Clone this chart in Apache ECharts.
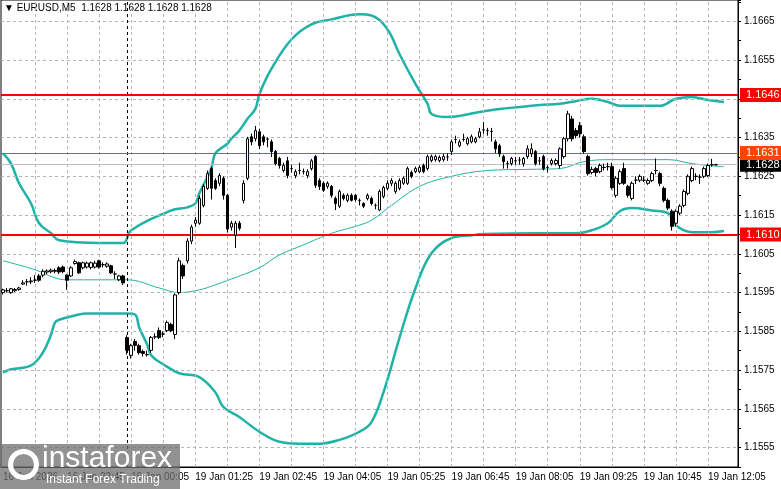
<!DOCTYPE html>
<html>
<head>
<meta charset="utf-8">
<script src="https://cdn.jsdelivr.net/npm/echarts@6/dist/echarts.min.js"></script>
<style>
  html, body { margin: 0; padding: 0; background: #fff; }
  #chart { width: 781px; height: 489px; }
</style>
</head>
<body>
<div id="chart"></div>
<script>
// EURUSD M5 candles, [open, close, low, high]
var candles = [
  [1.15950,1.15957,1.15945,1.15960],[1.15955,1.15955,1.15950,1.15962],[1.15950,1.15960,1.15947,1.15962],
  [1.15955,1.15958,1.15952,1.15962],[1.15958,1.15962,1.15955,1.15965],[1.15972,1.15975,1.15970,1.15982],
  [1.15978,1.15978,1.15968,1.15985],[1.15978,1.15980,1.15972,1.15990],[1.15982,1.15982,1.15975,1.15995],
  [1.15993,1.15982,1.15978,1.15998],[1.15995,1.16005,1.15990,1.16010],[1.16003,1.16006,1.15998,1.16010],
  [1.16004,1.16008,1.16000,1.16012],[1.16005,1.16007,1.16000,1.16012],[1.16014,1.16003,1.15998,1.16018],
  [1.16016,1.16004,1.16000,1.16020],[1.15995,1.15982,1.15957,1.15998],[1.15993,1.16014,1.15990,1.16018],
  [1.16025,1.16030,1.16022,1.16035],[1.16027,1.16001,1.15998,1.16030],[1.16014,1.16027,1.16010,1.16030],
  [1.16016,1.16026,1.16012,1.16030],[1.16015,1.16027,1.16010,1.16030],[1.16016,1.16026,1.16012,1.16032],
  [1.16032,1.16016,1.16012,1.16035],[1.16022,1.16022,1.16015,1.16028],[1.16018,1.16024,1.16014,1.16028],
  [1.16019,1.16001,1.15998,1.16022],[1.15998,1.15998,1.15985,1.16005],[1.15983,1.15993,1.15980,1.15996],
  [1.15993,1.15975,1.15970,1.15996],
  [1.15834,1.15801,1.15790,1.15840],[1.15788,1.15813,1.15780,1.15818],[1.15824,1.15814,1.15800,1.15830],
  [1.15813,1.15795,1.15790,1.15818],[1.15798,1.15793,1.15785,1.15803],[1.15790,1.15790,1.15785,1.15800],
  [1.15801,1.15834,1.15795,1.15838],[1.15836,1.15836,1.15830,1.15845],[1.15852,1.15834,1.15830,1.15860],
  [1.15843,1.15843,1.15835,1.15850],[1.15852,1.15873,1.15848,1.15878],[1.15868,1.15852,1.15848,1.15872],
  [1.15842,1.15944,1.15830,1.15948],[1.15950,1.16032,1.15945,1.16040],[1.16020,1.15993,1.15985,1.16025],
  [1.16032,1.16083,1.16025,1.16090],[1.16083,1.16119,1.16075,1.16125],[1.16129,1.16137,1.16120,1.16145],
  [1.16129,1.16193,1.16125,1.16200],[1.16175,1.16224,1.16170,1.16230],[1.16219,1.16257,1.16215,1.16265],
  [1.16270,1.16219,1.16190,1.16275],[1.16239,1.16219,1.16215,1.16245],[1.16232,1.16252,1.16225,1.16258],
  [1.16245,1.16201,1.16190,1.16250],[1.16201,1.16114,1.16105,1.16205],[1.16119,1.16129,1.16110,1.16135],
  [1.16098,1.16129,1.16065,1.16135],[1.16129,1.16116,1.16110,1.16135],[1.16188,1.16232,1.16180,1.16240],
  [1.16245,1.16347,1.16240,1.16352],[1.16352,1.16339,1.16330,1.16360],[1.16347,1.16368,1.16340,1.16380],
  [1.16365,1.16329,1.16320,1.16372],[1.16352,1.16339,1.16330,1.16358],[1.16346,1.16346,1.16325,1.16350],
  [1.16339,1.16314,1.16300,1.16345],[1.16314,1.16283,1.16278,1.16318],[1.16296,1.16278,1.16270,1.16300],
  [1.16265,1.16278,1.16260,1.16285],[1.16290,1.16252,1.16245,1.16300],[1.16270,1.16270,1.16260,1.16280],
  [1.16252,1.16262,1.16245,1.16268],[1.16265,1.16265,1.16255,1.16285],[1.16262,1.16262,1.16255,1.16270],
  [1.16252,1.16262,1.16245,1.16268],[1.16270,1.16290,1.16265,1.16295],[1.16301,1.16227,1.16220,1.16305],
  [1.16239,1.16224,1.16215,1.16245],[1.16232,1.16214,1.16210,1.16237],[1.16224,1.16232,1.16218,1.16237],
  [1.16224,1.16201,1.16195,1.16228],[1.16193,1.16180,1.16163,1.16198],[1.16173,1.16211,1.16168,1.16216],
  [1.16201,1.16193,1.16188,1.16206],[1.16188,1.16201,1.16183,1.16206],[1.16201,1.16188,1.16185,1.16206],
  [1.16201,1.16190,1.16185,1.16205],[1.16188,1.16188,1.16175,1.16193],[1.16180,1.16173,1.16168,1.16183],
  [1.16193,1.16201,1.16188,1.16206],[1.16193,1.16180,1.16175,1.16198],[1.16175,1.16175,1.16165,1.16180],
  [1.16163,1.16211,1.16160,1.16216],[1.16198,1.16221,1.16193,1.16226],[1.16219,1.16232,1.16214,1.16240],
  [1.16232,1.16239,1.16225,1.16245],[1.16211,1.16232,1.16205,1.16237],[1.16219,1.16239,1.16214,1.16245],
  [1.16232,1.16245,1.16228,1.16250],[1.16232,1.16270,1.16228,1.16275],[1.16260,1.16250,1.16245,1.16265],
  [1.16262,1.16270,1.16258,1.16275],[1.16262,1.16273,1.16258,1.16278],[1.16278,1.16262,1.16258,1.16283],
  [1.16270,1.16301,1.16265,1.16306],[1.16291,1.16301,1.16286,1.16306],[1.16293,1.16301,1.16288,1.16306],
  [1.16291,1.16299,1.16286,1.16304],[1.16293,1.16301,1.16288,1.16308],[1.16300,1.16300,1.16290,1.16310],
  [1.16314,1.16339,1.16305,1.16345],[1.16345,1.16345,1.16335,1.16355],[1.16329,1.16339,1.16325,1.16345],
  [1.16345,1.16345,1.16340,1.16360],[1.16334,1.16347,1.16330,1.16352],[1.16339,1.16352,1.16335,1.16358],
  [1.16339,1.16347,1.16335,1.16352],[1.16352,1.16365,1.16348,1.16375],[1.16370,1.16370,1.16360,1.16390],
  [1.16368,1.16368,1.16355,1.16375],[1.16366,1.16366,1.16340,1.16375],[1.16339,1.16321,1.16310,1.16345],
  [1.16329,1.16308,1.16300,1.16334],[1.16301,1.16288,1.16270,1.16306],[1.16283,1.16283,1.16270,1.16290],
  [1.16283,1.16296,1.16278,1.16300],[1.16290,1.16290,1.16280,1.16300],[1.16292,1.16292,1.16280,1.16300],
  [1.16283,1.16296,1.16275,1.16300],[1.16301,1.16321,1.16295,1.16330],[1.16308,1.16321,1.16300,1.16335],
  [1.16314,1.16283,1.16278,1.16318],[1.16290,1.16290,1.16280,1.16300],[1.16301,1.16270,1.16265,1.16306],
  [1.16273,1.16273,1.16260,1.16278],[1.16283,1.16291,1.16278,1.16296],[1.16283,1.16291,1.16278,1.16296],
  [1.16278,1.16321,1.16270,1.16325],[1.16301,1.16347,1.16296,1.16352],[1.16347,1.16411,1.16340,1.16419],
  [1.16398,1.16347,1.16340,1.16406],[1.16368,1.16355,1.16348,1.16375],[1.16381,1.16360,1.16350,1.16390],
  [1.16352,1.16314,1.16308,1.16358],[1.16301,1.16257,1.16252,1.16306],[1.16260,1.16268,1.16255,1.16275],
  [1.16270,1.16260,1.16250,1.16275],[1.16262,1.16278,1.16258,1.16283],[1.16273,1.16273,1.16265,1.16283],
  [1.16275,1.16275,1.16265,1.16285],[1.16275,1.16221,1.16216,1.16285],[1.16201,1.16245,1.16195,1.16250],
  [1.16232,1.16262,1.16228,1.16268],[1.16270,1.16232,1.16228,1.16285],[1.16224,1.16201,1.16195,1.16228],
  [1.16193,1.16232,1.16188,1.16237],[1.16240,1.16240,1.16230,1.16250],[1.16240,1.16250,1.16235,1.16255],
  [1.16240,1.16240,1.16235,1.16250],[1.16232,1.16239,1.16228,1.16245],[1.16239,1.16257,1.16235,1.16262],
  [1.16265,1.16265,1.16255,1.16296],[1.16257,1.16232,1.16225,1.16262],[1.16219,1.16188,1.16183,1.16224],
  [1.16188,1.16168,1.16163,1.16193],[1.16160,1.16121,1.16110,1.16165],[1.16129,1.16160,1.16120,1.16165],
  [1.16155,1.16173,1.16150,1.16178],[1.16175,1.16211,1.16170,1.16216],[1.16206,1.16250,1.16201,1.16255],
  [1.16239,1.16270,1.16235,1.16275],[1.16250,1.16250,1.16240,1.16258],[1.16248,1.16248,1.16230,1.16255],
  [1.16250,1.16270,1.16245,1.16275],[1.16252,1.16278,1.16248,1.16283],[1.16280,1.16280,1.16275,1.16295],
  [1.16280,1.16280,1.16278,1.16282]
];

// Bollinger bands, [bar index, price]
var bandUpper = [
  [0,1.16309],[2,1.16283],[4,1.16232],[7,1.16180],[9,1.16129],[12,1.16103],[14,1.16085],[24,1.16078],
  [30,1.16078],[32,1.16111],[42,1.16162],[46,1.16170],[48,1.16180],[49,1.16206],[52,1.16270],[53,1.16309],
  [56,1.16334],[57,1.16347],[59,1.16368],[61,1.16398],[63,1.16424],[64,1.16462],[67,1.16527],[72,1.16603],
  [77,1.16642],[82,1.16655],[89,1.16668],[92,1.16665],[96,1.16629],[99,1.16565],[103,1.16488],[106,1.16437],
  [107,1.16411],[111,1.16403],[114,1.16406],[119,1.16416],[124,1.16424],[129,1.16429],[134,1.16434],
  [139,1.16437],[143,1.16444],[147,1.16450],[151,1.16442],[154,1.16432],[159,1.16432],[164,1.16432],
  [168,1.16450],[172,1.16455],[176,1.16447],[180,1.16442]
];
var bandMiddle = [
  [0,1.16032],[8,1.16009],[13,1.15988],[16,1.15983],[31,1.15983],[39,1.15962],[44,1.15950],[49,1.15957],
  [53,1.15970],[57,1.15985],[64,1.16014],[69,1.16047],[75,1.16073],[82,1.16103],[89,1.16124],[92,1.16137],
  [97,1.16175],[104,1.16224],[112,1.16250],[121,1.16265],[131,1.16268],[139,1.16270],[145,1.16288],
  [152,1.16293],[166,1.16293],[172,1.16283],[176,1.16278],[180,1.16275]
];
var bandLower = [
  [0,1.15744],[2,1.15752],[7,1.15762],[10,1.15796],[12,1.15842],[13,1.15873],[14,1.15880],[18,1.15891],
  [21,1.15896],[31,1.15896],[33,1.15893],[34,1.15860],[36,1.15816],[37,1.15788],[40,1.15765],[44,1.15742],
  [49,1.15732],[53,1.15693],[55,1.15655],[59,1.15629],[64,1.15591],[69,1.15565],[74,1.15560],[79,1.15560],
  [84,1.15570],[89,1.15591],[92,1.15616],[95,1.15693],[99,1.15834],[103,1.15962],[107,1.16052],
  [112,1.16091],[117,1.16098],[120,1.16101],[134,1.16103],[143,1.16103],[147,1.16111],[151,1.16129],
  [154,1.16160],[157,1.16168],[162,1.16162],[166,1.16155],[168,1.16124],[172,1.16106],[177,1.16106],[180,1.16109]
];

var priceTicks = ['1.1555','1.1565','1.1575','1.1585','1.1595','1.1605','1.1615','1.1625','1.1635','1.1645','1.1655','1.1665'];
var levels = [
  { value: 1.1628, text: '1.1628', color: '#c0c0c0', width: 1, bg: '#000000' },
  { value: 1.1646, text: '1.1646', color: '#ff0000', width: 2, bg: '#ff0000' },
  { value: 1.1631, text: '1.1631', color: '#ff4500', width: 1, bg: '#ff4500' },
  { value: 1.1610, text: '1.1610', color: '#ff0000', width: 2, bg: '#ff0000' }
];
var barCount = 184;
var dayBreak = 31; // first bar of 19 Jan

// time labels: 16 Jan from 21:25, then 19 Jan from 00:00
var times = [];
function pad(n) { return (n < 10 ? '0' : '') + n; }
for (var i = 0; i < barCount; i++) {
  var m, d;
  if (i < dayBreak) { m = 21 * 60 + 25 + 5 * i; d = '16 Jan '; }
  else { m = 5 * (i - dayBreak); d = '19 Jan '; }
  times.push(i === 0 ? '16 Jan 2026' : d + pad(Math.floor(m / 60)) + ':' + pad(m % 60));
}

var teal = '#1fb2a6';
var font = 'Liberation Sans, Arial, sans-serif';

var gridLines = priceTicks.map(function (t) {
  return { yAxis: parseFloat(t), lineStyle: { color: '#b4b4b4', type: [3, 3], width: 1 }, label: { show: false } };
});
var vLines = [];
for (var k = 8; k < barCount; k += 8) {
  vLines.push({ xAxis: k, lineStyle: { color: '#b4b4b4', type: [3, 3], width: 1 }, label: { show: false } });
}
vLines.push({ xAxis: dayBreak, lineStyle: { color: '#000', type: [3, 3], width: 1 }, label: { show: false } });
var levelLines = levels.map(function (l) {
  return {
    yAxis: l.value,
    lineStyle: { color: l.color, width: l.width, type: 'solid' },
    label: {
      show: true, position: 'end', formatter: l.text, color: '#fff',
      backgroundColor: l.bg, padding: [2, 6, 1, 6], distance: 2,
      fontFamily: font, fontSize: 11
    }
  };
});

var chart = echarts.init(document.getElementById('chart'));
chart.setOption({
  animation: false,
  backgroundColor: '#fff',
  grid: { left: 1, right: 43, top: 0, bottom: 22, show: true, borderColor: '#000', borderWidth: 1 },
  xAxis: {
    type: 'category',
    data: times,
    boundaryGap: true,
    axisLine: { lineStyle: { color: '#000' } },
    axisTick: { show: false },
    splitLine: { show: false },
    axisLabel: {
      interval: function (i) { return i % 16 === 0; },
      align: 'left', color: '#000', fontFamily: font, fontSize: 10, margin: 5
    }
  },
  yAxis: {
    type: 'value',
    position: 'right',
    min: 1.1550,
    max: 1.16705,
    interval: 0.0005,
    axisLine: { show: true, lineStyle: { color: '#000' } },
    axisTick: { show: true, length: 3, lineStyle: { color: '#000' } },
    splitLine: { show: false },
    axisLabel: {
      color: '#000', fontFamily: font, fontSize: 10, margin: 6,
      formatter: function (v) {
        var s = v.toFixed(4);
        return priceTicks.indexOf(s) >= 0 ? s : '';
      }
    }
  },
  series: [
    {
      type: 'line', data: [], symbol: 'none', silent: true, z: 1,
      markLine: { silent: true, symbol: 'none', animation: false, precision: 5, data: gridLines.concat(vLines) }
    },
    { type: 'line', data: bandUpper, smooth: 0.4, symbol: 'none', lineStyle: { color: teal, width: 2.5 }, z: 2 },
    { type: 'line', data: bandMiddle, smooth: 0.4, symbol: 'none', lineStyle: { color: teal, width: 1 }, z: 2 },
    { type: 'line', data: bandLower, smooth: 0.4, symbol: 'none', lineStyle: { color: teal, width: 2.5 }, z: 2 },
    {
      type: 'line', data: [], symbol: 'none', silent: true, z: 4,
      markLine: { silent: true, symbol: 'none', animation: false, precision: 5, data: levelLines }
    },
    {
      type: 'candlestick',
      data: candles,
      barWidth: 3,
      itemStyle: { color: '#fff', color0: '#000', borderColor: '#000', borderColor0: '#000', borderWidth: 1 },
      z: 5
    }
  ],
  graphic: [
    { type: 'text', left: 4, top: 3, style: { text: '▼ EURUSD,M5  1.1628 1.1628 1.1628 1.1628', fill: '#000', font: '10px ' + font } },
    { type: 'rect', left: 0, top: 444, shape: { width: 180, height: 45 }, style: { fill: 'rgba(110,110,110,0.75)' }, z: 100 },
    { type: 'circle', left: 8, top: 449, shape: { r: 13 }, style: { fill: 'none', stroke: '#fff', lineWidth: 5 }, z: 101 },
    { type: 'text', left: 42, top: 444, style: { text: 'instaforex', fill: '#fff', font: '30px ' + font }, z: 101 },
    { type: 'text', left: 46, top: 474, style: { text: 'Instant Forex Trading', fill: '#fff', font: '12px ' + font }, z: 101 }
  ]
});
</script>
</body>
</html>
